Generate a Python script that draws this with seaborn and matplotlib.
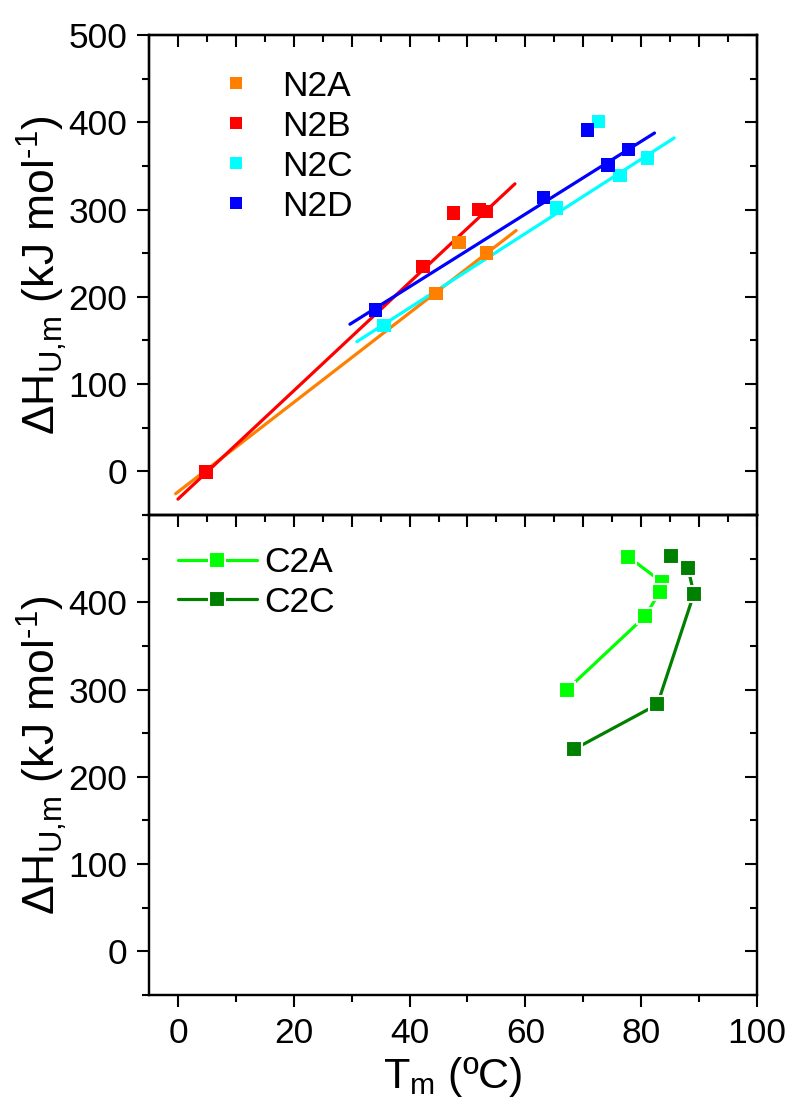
import numpy as np
import pandas as pd
import matplotlib
matplotlib.use("Agg")
import matplotlib.pyplot as plt
from matplotlib.lines import Line2D
from matplotlib.ticker import MultipleLocator, FixedLocator
import seaborn as sns

# ---- N-terminal variants: melting temperature vs unfolding enthalpy ----
n2a_tm = [4.8, 44.6, 48.5, 53.3]
n2a_dh = [0.0, 204.0, 262.0, 250.0]
n2b_tm = [4.8, 42.3, 47.6, 52.0, 53.3]
n2b_dh = [-1.0, 235.0, 296.0, 300.0, 298.0]
n2c_tm = [35.6, 65.4, 76.3, 81.1, 72.6]
n2c_dh = [167.0, 302.0, 339.0, 359.0, 401.0]
n2d_tm = [34.1, 63.1, 74.3, 77.8, 70.7]
n2d_dh = [185.0, 314.0, 351.0, 369.0, 391.0]

# linear fits (start/end of each fitted segment)
fit_series = ["N2A", "N2B", "N2C", "N2D"]
fit_tm_start = [-0.4, 0.0, 30.9, 29.7]
fit_tm_end = [58.4, 58.2, 85.7, 82.3]
fit_dh_start = [-25.6, -31.8, 148.6, 168.6]
fit_dh_end = [276.0, 329.5, 382.0, 387.7]

# ---- C-terminal variants ----
c2a_tm = [77.8, 83.6, 83.2, 80.7, 67.2]
c2a_dh = [452.0, 423.0, 412.0, 384.0, 300.0]
c2c_tm = [85.2, 88.1, 89.1, 82.8, 68.4]
c2c_dh = [453.0, 439.0, 409.5, 283.0, 231.5]

colors = {"N2A": "#FF8000", "N2B": "#FF0000", "N2C": "#00FFFF", "N2D": "#0000FF",
          "C2A": "#00FF00", "C2C": "#008000"}

sns.set_theme(style="ticks")
plt.rcParams["font.family"] = ["Liberation Sans", "DejaVu Sans"]
plt.rcParams["mathtext.fontset"] = "custom"
plt.rcParams["mathtext.rm"] = "Liberation Sans"
plt.rcParams["mathtext.it"] = "Liberation Sans:italic"
for key in ["text.color", "axes.labelcolor", "xtick.color", "ytick.color",
            "axes.edgecolor", "xtick.labelcolor", "ytick.labelcolor"]:
    plt.rcParams[key] = "black"
plt.rcParams["axes.linewidth"] = 1.6

pts = pd.concat([
    pd.DataFrame({"Tm": n2a_tm, "dH": n2a_dh, "s": "N2A"}),
    pd.DataFrame({"Tm": n2b_tm, "dH": n2b_dh, "s": "N2B"}),
    pd.DataFrame({"Tm": n2c_tm, "dH": n2c_dh, "s": "N2C"}),
    pd.DataFrame({"Tm": n2d_tm, "dH": n2d_dh, "s": "N2D"}),
], ignore_index=True)

fits = pd.DataFrame({
    "Tm": fit_tm_start + fit_tm_end,
    "dH": fit_dh_start + fit_dh_end,
    "s": fit_series + fit_series,
})

cdat = pd.concat([
    pd.DataFrame({"Tm": c2a_tm, "dH": c2a_dh, "s": "C2A"}),
    pd.DataFrame({"Tm": c2c_tm, "dH": c2c_dh, "s": "C2C"}),
], ignore_index=True)

W, H = 791, 1104
fig = plt.figure(figsize=(W / 100, H / 100), dpi=100)
left, right = 149 / W, 757 / W
ax2 = fig.add_axes([left, 1 - 995 / H, right - left, 480 / H])
ax1 = fig.add_axes([left, 1 - 515 / H, right - left, 480 / H])
ax1.patch.set_alpha(0)
ax2.patch.set_alpha(0)

TICK_FS = 25.5
LABEL_FS = 32
MAJ, MIN, TW = 8.6, 5.0, 1.5
XLIM, YLIM = (-5, 100), (-50, 500)

# top panel: fitted lines then data points
sns.lineplot(data=fits, x="Tm", y="dH", hue="s", palette=colors, estimator=None,
             sort=False, units="s", linewidth=2.3, legend=False, ax=ax1)
sns.scatterplot(data=pts, x="Tm", y="dH", hue="s", palette=colors, marker="s",
                s=95, linewidth=0, legend=False, ax=ax1, zorder=3)

# bottom panel: connected series
for name in ["C2A", "C2C"]:
    d = cdat[cdat["s"] == name]
    sns.lineplot(data=d, x="Tm", y="dH", sort=False, estimator=None,
                 color=colors[name], linewidth=2.3, marker="s", markersize=11,
                 markeredgecolor="white", markeredgewidth=1.5, legend=False, ax=ax2)


def style_ticks(a, direction):
    a.tick_params(which="major", direction=direction, length=MAJ, width=TW,
                  color="black", labelsize=TICK_FS, pad=7)
    a.tick_params(which="minor", direction=direction, length=MIN, width=TW,
                  color="black")
    for sp in a.spines.values():
        sp.set_linewidth(1.6)
        sp.set_color("black")


ylab = "ΔH$_\\mathregular{U{,}m}$ (kJ mol$^\\mathregular{\\text{-}1}$)"
for ax in (ax1, ax2):
    ax.set_xlim(*XLIM)
    ax.set_ylim(*YLIM)
    ax.set_ylabel(ylab, fontsize=LABEL_FS)
    ax.yaxis.set_label_coords(-0.132, 0.5)
    ax.yaxis.set_minor_locator(MultipleLocator(50))
    style_ticks(ax, "out")
    ax.tick_params(which="both", top=False, right=False)
    for sp in ax.spines.values():
        sp.set_visible(True)
    # inward ticks on the right edge
    tr = ax.twinx()
    tr.set_ylim(*YLIM)
    tr.yaxis.set_major_locator(MultipleLocator(100))
    tr.yaxis.set_minor_locator(MultipleLocator(50))
    style_ticks(tr, "in")
    tr.tick_params(which="both", labelright=False, right=True, left=False)

# top panel ticks
ax1.yaxis.set_major_locator(MultipleLocator(100))
ax1.xaxis.set_major_locator(MultipleLocator(10))
ax1.xaxis.set_minor_locator(MultipleLocator(5))
ax1.tick_params(axis="x", labelbottom=False)
ax1.set_xlabel("")
tt = ax1.twiny()
tt.set_xlim(*XLIM)
tt.xaxis.set_major_locator(MultipleLocator(10))
tt.xaxis.set_minor_locator(MultipleLocator(5))
style_ticks(tt, "in")
tt.tick_params(which="both", labeltop=False, top=True, bottom=False)

# bottom panel ticks
ax2.yaxis.set_major_locator(FixedLocator([0, 100, 200, 300, 400]))
ax2.xaxis.set_major_locator(MultipleLocator(20))
ax2.xaxis.set_minor_locator(MultipleLocator(10))
ax2.set_xlabel("T$_\\mathregular{m}$ (ºC)", fontsize=31)
ax2.xaxis.set_label_coords(0.5, -0.125)

# legends
h1 = [Line2D([], [], linestyle="none", marker="s", markersize=9, markeredgewidth=0,
             color=colors[k]) for k in fit_series]
ax1.legend(h1, fit_series, loc="upper left", bbox_to_anchor=(0.114, 0.928),
           frameon=False, fontsize=TICK_FS, handlelength=1.0, handletextpad=0.8,
           labelspacing=0.2, borderpad=0, borderaxespad=0)

h2 = [Line2D([], [], color=colors[k], linewidth=2.3, marker="s", markersize=11,
             markeredgecolor="white", markeredgewidth=1.5) for k in ["C2A", "C2C"]]
ax2.legend(h2, ["C2A", "C2C"], loc="upper left", bbox_to_anchor=(0.0477, 0.935),
           frameon=False, fontsize=TICK_FS, handlelength=2.22, handletextpad=0.22,
           labelspacing=0.18, borderpad=0, borderaxespad=0)

fig.savefig("out.png", dpi=100)
